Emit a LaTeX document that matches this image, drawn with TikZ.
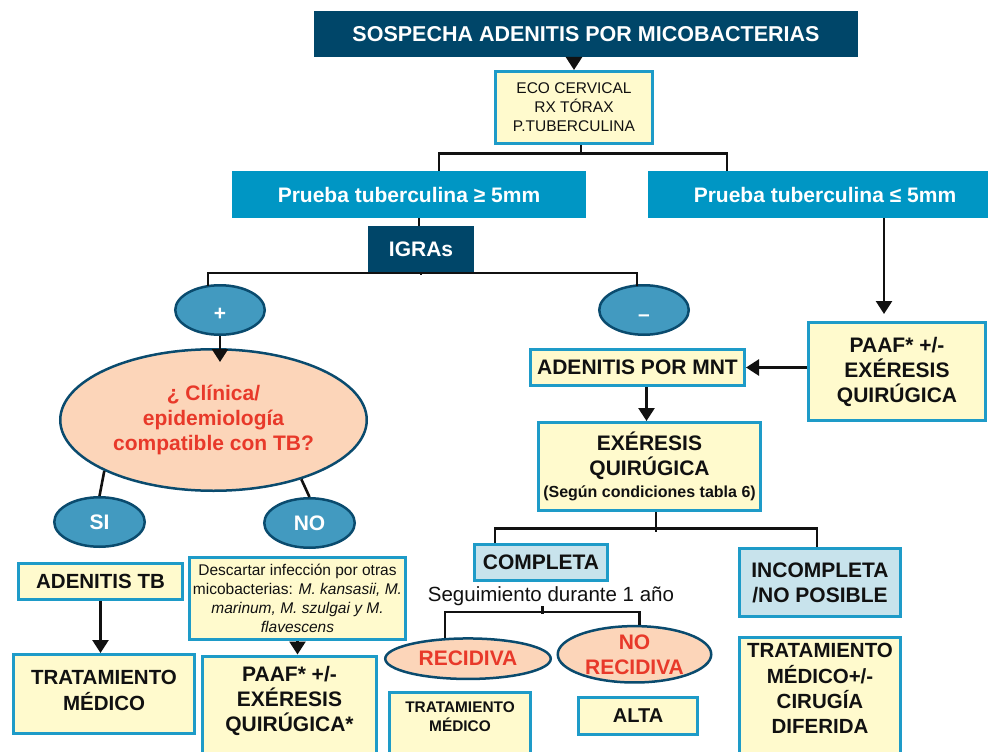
\documentclass[tikz,border=0pt]{standalone}
\usepackage{fontspec}
\setmainfont{Liberation Sans}
\usetikzlibrary{shapes.geometric,arrows.meta}
\definecolor{navy}{RGB}{0,70,105}
\definecolor{midblue}{RGB}{0,150,196}
\definecolor{bordblue}{RGB}{30,155,200}
\definecolor{ylw}{RGB}{255,250,205}
\definecolor{ellblue}{RGB}{66,154,192}
\definecolor{elledge}{RGB}{10,75,110}
\definecolor{peach}{RGB}{252,213,185}
\definecolor{redtxt}{RGB}{232,57,42}
\definecolor{ltblue}{RGB}{200,227,236}
\definecolor{ink}{RGB}{17,17,17}
\newcommand\fsz[2]{\fontsize{#1}{#2}\selectfont}
\tikzset{
  txtbase/.style={align=center, inner sep=0pt, font=\bfseries\fsz{21}{25}, text=ink},
  darkbox/.style={txtbase, rectangle, fill=navy, text=white},
  bluebox/.style={txtbase, rectangle, fill=midblue, text=white},
  ybox/.style={txtbase, rectangle, draw=bordblue, line width=3pt, fill=ylw},
  lbox/.style={ybox, fill=ltblue},
  ovalnode/.style={txtbase, ellipse, draw=elledge, line width=2.5pt, fill=ellblue, text=white},
  peachoval/.style={txtbase, ellipse, draw=elledge, line width=2.5pt, fill=peach, text=redtxt},
  conn/.style={draw=ink, line width=2.6pt},
  arr/.style={conn, -{Triangle[width=16pt,length=13pt]}},
}
\begin{document}
\begin{tikzpicture}[x=1pt,y=-1pt]
\useasboundingbox (0,0) rectangle (988,752);
\clip (0,0) rectangle (988,752);
% top
\node[darkbox, font=\bfseries\fsz{21.5}{25}, minimum width=544pt, minimum height=46pt] (title) at (586,34) {SOSPECHA ADENITIS POR MICOBACTERIAS};
\node[ybox, font=\fsz{15.5}{19}, minimum width=157pt, minimum height=72pt] (eco) at (574,107.5) {ECO CERVICAL\\RX TÓRAX\\P.TUBERCULINA};
\node[bluebox, minimum width=354pt, minimum height=47pt] (pge) at (409,194.5) {Prueba tuberculina ≥ 5mm};
\node[bluebox, minimum width=354pt, minimum height=47pt] (ple) at (825,194.5) {Prueba tuberculina ≤ 5mm};
\node[darkbox, minimum width=106pt, minimum height=46pt] (igras) at (421,249) {IGRAs};
\node[ovalnode, minimum width=89.5pt, minimum height=49.5pt, text height=20pt, text depth=0pt] (plus) at (220,310) {+};
\node[ovalnode, minimum width=89.5pt, minimum height=49.5pt, text height=22pt, text depth=0pt] (minus) at (644,310) {–};
% left branch
\node[peachoval, minimum width=306.5pt, minimum height=141.5pt] (q) at (213.5,420) {¿ Clínica/\\epidemiología\\compatible con TB?};
\node[ovalnode, minimum width=90.5pt, minimum height=49.5pt] (si) at (99.5,522) {SI};
\node[ovalnode, minimum width=90.5pt, minimum height=49.5pt] (no) at (309.5,523) {NO};
\node[ybox, font=\bfseries\fsz{20.5}{25}, minimum width=164pt, minimum height=36pt] (adtb) at (100.5,581.5) {ADENITIS TB};
\node[ybox, minimum width=181pt, minimum height=79pt] (tm1) at (104,694) {};
\node[txtbase, font=\bfseries\fsz{20.5}{26}] (tm1t) at (104,690.5) {TRATAMIENTO\\MÉDICO};
\node[ybox, font=\fsz{15.5}{19}, minimum width=216pt, minimum height=82pt] (desc) at (297.5,598.5) {Descartar infección por otras\\micobacterias: \textit{M. kansasii, M.}\\\textit{marinum, M. szulgai y M.}\\\textit{flavescens}};
\node[ybox, minimum width=174pt, minimum height=115pt, anchor=north] (paaf1) at (289.5,654.5) {};
\node[txtbase] (paaf1t) at (289.5,701) {PAAF* +/-\\EXÉRESIS\\QUIRÚGICA*};
% right branch
\node[ybox, minimum width=214pt, minimum height=36pt] (mnt) at (637.5,367.5) {ADENITIS POR MNT};
\node[ybox, minimum width=177pt, minimum height=98pt] (paaf2) at (897,371.5) {PAAF* +/-\\EXÉRESIS\\QUIRÚGICA};
\node[ybox, minimum width=222pt, minimum height=88pt] (exe) at (649.5,466.5) {EXÉRESIS\\QUIRÚGICA\\[-3.5pt]{\fsz{16}{19}(Según condiciones tabla 6)}};
\node[lbox, minimum width=133pt, minimum height=36pt] (comp) at (541,562.5) {COMPLETA};
\node[lbox, minimum width=161pt, minimum height=68pt] (incomp) at (820,582.5) {INCOMPLETA\\/NO POSIBLE};
\node[txtbase, font=\fsz{20.5}{24}] (seg) at (551,596.5) {Seguimiento durante 1 año};
\node[peachoval, minimum width=165.5pt, minimum height=40.5pt] (rec) at (468,658.7) {RECIDIVA};
\node[peachoval, minimum width=153.5pt, minimum height=54.5pt] (norec) at (634.5,654.3) {NO\\RECIDIVA};
\node[ybox, minimum width=141pt, minimum height=80pt, anchor=north] (tm2) at (460,690.5) {};
\node[txtbase, font=\bfseries\fsz{15.4}{18.4}] (tm2t) at (460,716.5) {TRATAMIENTO\\MÉDICO};
\node[ybox, font=\bfseries\fsz{20}{24}, minimum width=119pt, minimum height=37pt] (alta) at (638,716) {ALTA};
\node[ybox, minimum width=161pt, minimum height=130pt, anchor=north] (tmcd) at (820,635.5) {};
\node[txtbase, font=\bfseries\fsz{20.5}{25.2}] (tmcdt) at (820,688.5) {TRATAMIENTO\\MÉDICO+/-\\CIRUGÍA\\DIFERIDA};
% connectors
\draw[arr] (title.south -| eco.north) -- (eco.north);
\draw[conn] ([xshift=7pt]eco.south) -- ++(0,10);
\draw[conn] ([xshift=30pt]pge.north) -- ++(0,-17.5) -| ([xshift=-98pt]ple.north);
\draw[conn] ([xshift=-2pt]igras.north) -- ([xshift=10pt]pge.south);
\draw[conn] (igras.south) -- ++(0,2.5);
\draw[conn, shorten <=-1.5pt, shorten >=-1.5pt] ([xshift=-12pt]plus.north) -- ++(0,-11) -| ([xshift=-7pt]minus.north);
\draw[arr, shorten >=-14pt] (plus.south) -- (plus.south |- q.north);
\draw[conn] (q.205) -- (si.north);
\draw[conn] (q.326) -- (no.north);
\draw[arr] (adtb.south) -- (adtb.south |- tm1.north);
\draw[arr] (desc.south) -- (desc.south |- paaf1.north);
\coordinate (c1) at ([xshift=-13pt]paaf2.north);
\draw[arr] (c1 |- ple.south) -- ([yshift=7pt]c1);
\draw[arr] (paaf2.west |- mnt.east) -- (mnt.east);
\coordinate (c2) at ([xshift=9pt]mnt.south);
\draw[arr] (c2) -- (c2 |- exe.north);
\draw[conn] ([xshift=6.5pt]exe.south) -- ++(0,20);
\draw[conn] ([xshift=-46pt]comp.north) -- ++(0,-14.7) -| ([xshift=-3pt]incomp.north);
\draw[conn] ([xshift=-8.3pt]seg.south) -- ++(0,7.5);
\draw[conn, shorten <=-1pt] ([xshift=-23pt]rec.north) -- ++(0,-25.2) -| ([xshift=5pt]norec.north);
\end{tikzpicture}
\end{document}
